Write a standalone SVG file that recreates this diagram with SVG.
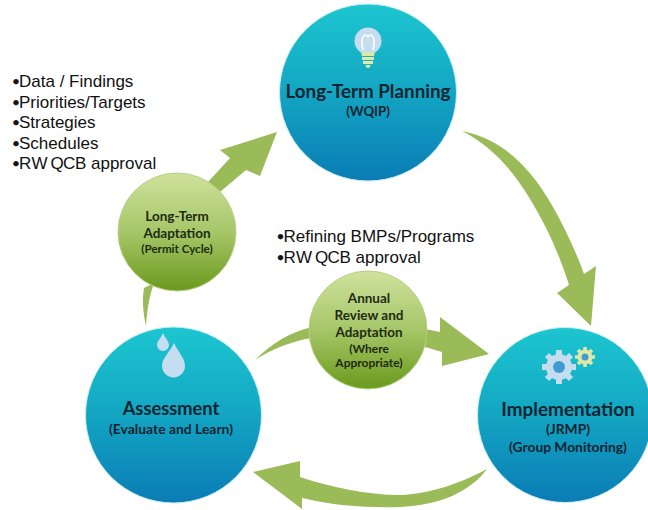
<svg xmlns="http://www.w3.org/2000/svg" width="648" height="510" viewBox="0 0 648 510">
<style>
.t{font-family:"Liberation Sans",Arial,sans-serif;font-size:17px;fill:#111}
.b{stroke:#111;stroke-width:.8}
.c{font-family:Lato,"Open Sans",sans-serif;font-weight:700;fill:#0c2430;text-anchor:middle}
.g{font-family:Lato,"Open Sans",sans-serif;font-weight:700;fill:#1f2a12;text-anchor:middle}
.ar{fill:#9bbb59}
.bc{fill:url(#blue);stroke:#c9eef2;stroke-width:1}
.gc{fill:url(#green);stroke:#b9cf83;stroke-width:1}
.ic{fill:#c5ddf0}
</style>
<defs>
<linearGradient id="blue" x1="0" y1="0" x2="0" y2="1"><stop offset="0" stop-color="#1cc6d0"/><stop offset=".45" stop-color="#14a9c4"/><stop offset="1" stop-color="#0a7cb5"/></linearGradient>
<linearGradient id="green" x1="0" y1="0" x2="0" y2="1"><stop offset="0" stop-color="#cfe29c"/><stop offset=".5" stop-color="#a6c668"/><stop offset="1" stop-color="#6a9a1c"/></linearGradient>
</defs>
<rect width="648" height="510" fill="#fff"/>
<g id="connectors">
<path class="ar" d="M146 326C143 312 142 300 144 288L154 283C149 297 147 311 146 326Z"/>
<path class="ar" d="M208 182L230 158L220 150L277 132L260 176L246 170L220 192Z"/>
<path class="ar" d="M462 131C492 137 512 153 527 170C546 190 570 235 584 274L596 266L591 326L557 293L569 285C558 250 544 222 530 199C514 172 492 146 462 131Z"/>
<path class="ar" d="M487 469C465 481 432 494 400 495C367 495 330 487 300 477L300 461L253 472L302 509L302 498C335 506 370 508 400 507C440 505 470 492 487 469Z"/>
<path class="ar" d="M255 360C272 343 290 332 312 327L312 338C292 341 272 349 255 360Z"/>
<path class="ar" d="M425 329L440 332L440 317L489 354L442 366L442 352L425 347Z"/>
</g>
<g id="long-term-planning">
<circle class="bc" cx="368" cy="92.500" r="88.500"/>
<circle class="ic" cx="368" cy="41" r="13.500"/>
<path d="M363 50C361 41 362 35 366 35L368 37L370 35C374 35 375 41 373 50" fill="none" stroke="#fff" stroke-width="1.500"/>
<path d="M361 52H375L374 56H362ZM362 57H374V60H362ZM363 61H373V64H363ZM365 65H371L369 68H367Z" fill="#dfe8a8"/>
<text class="c" x="368" y="98" font-size="18.800">Long-Term Planning</text>
<text class="c" x="368" y="116" font-size="13.200">(WQIP)</text>
</g>
<g id="implementation">
<circle class="bc" cx="565" cy="415" r="87.500"/>
<g transform="translate(559 367)"><circle r="13" class="ic"/><path class="ic" stroke="#c5ddf0" stroke-width="6" d="M0-17V17M-17 0H17M-12-12L12 12M-12 12L12-12"/><circle r="6" fill="#3d9dd3"/></g>
<g transform="translate(585 357)"><circle r="7.500" fill="#dfe8a8"/><path fill="none" stroke="#dfe8a8" stroke-width="3.500" d="M0-10V10M-10 0H10M-7-7L7 7M-7 7L7-7"/><circle r="3.500" fill="#3d9dd3"/></g>
<text class="c" x="568" y="416" font-size="18.900">Implementation</text>
<text class="c" x="568" y="434" font-size="13.800">(JRMP)</text>
<text class="c" x="568" y="452" font-size="13.800">(Group Monitoring)</text>
</g>
<g id="assessment">
<circle class="bc" cx="173.500" cy="415" r="88"/>
<path class="ic" d="M163 333C165 338 169 341 169 345A6 6 0 0 1 157 345C157 341 161 338 163 333Z"/>
<path class="ic" d="M174 343C178 352 185 358 185 366A11.500 11.500 0 0 1 162 366C162 358 170 352 174 343Z"/>
<text class="c" x="171" y="415" font-size="18.300">Assessment</text>
<text class="c" x="171" y="434" font-size="13.900">(Evaluate and Learn)</text>
</g>
<g id="long-term-adaptation">
<circle class="gc" cx="177" cy="232" r="59"/>
<text class="g" x="177" y="221" font-size="13.500">Long-Term</text>
<text class="g" x="177" y="238" font-size="13.500">Adaptation</text>
<text class="g" x="177" y="253" font-size="11.600">(Permit Cycle)</text>
</g>
<g id="annual-review">
<circle class="gc" cx="368" cy="330" r="59"/>
<text class="g" x="369" y="303" font-size="13.500">Annual</text>
<text class="g" x="369" y="320" font-size="13.500">Review and</text>
<text class="g" x="369" y="337" font-size="13.500">Adaptation</text>
<text class="g" x="369" y="353" font-size="12">(Where</text>
<text class="g" x="369" y="367" font-size="12">Appropriate)</text>
</g>
<g id="outputs-list">
<text class="t" y="87"><tspan class="b" x="13">•</tspan><tspan x="19">Data / Findings</tspan></text>
<text class="t" y="107.500"><tspan class="b" x="13">•</tspan><tspan x="19">Priorities/Targets</tspan></text>
<text class="t" y="128"><tspan class="b" x="13">•</tspan><tspan x="19">Strategies</tspan></text>
<text class="t" y="148.500"><tspan class="b" x="13">•</tspan><tspan x="19">Schedules</tspan></text>
<text class="t" y="169"><tspan class="b" x="13">•</tspan><tspan x="19 31.500 50.500 63 75">RWQCB</tspan> <tspan x="91">approval</tspan></text>
</g>
<g id="annual-list">
<text class="t" y="242"><tspan class="b" x="277.500">•</tspan><tspan x="283.500">Refining BMPs/Programs</tspan></text>
<text class="t" y="263"><tspan class="b" x="277.500">•</tspan><tspan x="283.500 296 315 327.500 339.500">RWQCB</tspan> <tspan x="355.500">approval</tspan></text>
</g>
</svg>
